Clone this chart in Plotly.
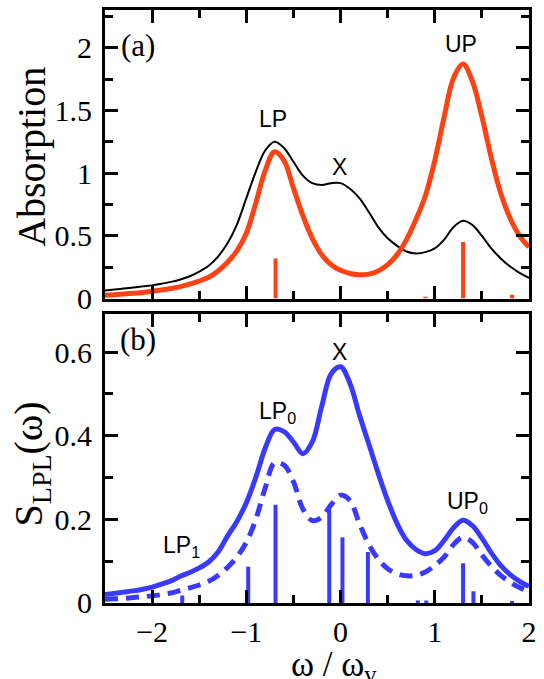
import plotly.graph_objects as go

# frequency grid, omega / omega_v
omega = [-2.5, -2.4, -2.3, -2.2, -2.1, -2.0, -1.9, -1.8, -1.7, -1.6,
         -1.5, -1.4, -1.3, -1.2, -1.1, -1.0, -0.9, -0.8, -0.7, -0.6,
         -0.5, -0.4, -0.3, -0.2, -0.1, 0.0, 0.1, 0.2, 0.3, 0.4,
         0.5, 0.6, 0.7, 0.8, 0.9, 1.0, 1.1, 1.2, 1.3, 1.4,
         1.5, 1.6, 1.7, 1.8, 1.9, 2.0]

# (a) absorption: bare exciton-vibration (black) and polariton (red)
abs_bare = [0.065, 0.072, 0.080, 0.088, 0.097, 0.105, 0.118, 0.133, 0.152, 0.178,
            0.215, 0.262, 0.335, 0.44, 0.59, 0.80, 1.01, 1.18, 1.25, 1.20,
            1.09, 0.98, 0.92, 0.905, 0.92, 0.92, 0.875, 0.80, 0.69, 0.57,
            0.48, 0.42, 0.375, 0.36, 0.37, 0.40, 0.47, 0.57, 0.62, 0.585,
            0.50, 0.40, 0.32, 0.255, 0.205, 0.165]
abs_pol = [0.027, 0.031, 0.036, 0.042, 0.049, 0.058, 0.068, 0.080, 0.095, 0.115,
           0.14, 0.17, 0.22, 0.29, 0.38, 0.52, 0.76, 1.02, 1.17, 1.10,
           0.88, 0.66, 0.48, 0.35, 0.27, 0.225, 0.20, 0.19, 0.195, 0.22,
           0.27, 0.35, 0.47, 0.63, 0.82, 1.10, 1.45, 1.76, 1.87, 1.73,
           1.45, 1.12, 0.84, 0.64, 0.50, 0.41]
abs_stick_pos = [-0.69, 0.90, 1.30, 1.82]
abs_stick_amp = [0.32, 0.015, 0.45, 0.03]

# (b) lower-polariton PL spectrum
pl_solid = [0.020, 0.023, 0.026, 0.029, 0.033, 0.038, 0.045, 0.053, 0.064, 0.073,
            0.084, 0.098, 0.122, 0.16, 0.195, 0.24, 0.30, 0.37, 0.415, 0.41,
            0.385, 0.357, 0.385, 0.47, 0.548, 0.565, 0.525, 0.45, 0.38, 0.31,
            0.245, 0.19, 0.15, 0.128, 0.118, 0.125, 0.15, 0.18, 0.198, 0.185,
            0.155, 0.12, 0.09, 0.068, 0.052, 0.040]
pl_dashed = [0.009, 0.010, 0.011, 0.013, 0.015, 0.017, 0.020, 0.024, 0.030, 0.036,
             0.043, 0.052, 0.066, 0.085, 0.11, 0.145, 0.20, 0.275, 0.335, 0.33,
             0.29, 0.225, 0.197, 0.205, 0.235, 0.258, 0.245, 0.19, 0.14, 0.105,
             0.082, 0.070, 0.065, 0.066, 0.074, 0.09, 0.11, 0.14, 0.157, 0.145,
             0.115, 0.088, 0.066, 0.05, 0.037, 0.028]
pl_stick_pos = [-1.68, -0.98, -0.69, -0.12, 0.02, 0.29, 0.82, 0.91, 1.30, 1.41, 1.82]
pl_stick_amp = [0.018, 0.087, 0.235, 0.223, 0.157, 0.122, 0.006, 0.006, 0.095, 0.028, 0.005]

RED = "#ff4214"
BLUE = "#3a3aff"


def sticks(pos, amp):
    xs, ys = [], []
    for p, a in zip(pos, amp):
        xs += [p, p, None]
        ys += [0, a, None]
    return xs, ys


fig = go.Figure()

sx, sy = sticks(abs_stick_pos, abs_stick_amp)
fig.add_trace(go.Scatter(x=sx, y=sy, mode="lines", line=dict(color=RED, width=4),
                         xaxis="x2", yaxis="y2", showlegend=False))
fig.add_trace(go.Scatter(x=omega, y=abs_bare, mode="lines",
                         line=dict(color="black", width=2, shape="spline"),
                         xaxis="x2", yaxis="y2", showlegend=False))
fig.add_trace(go.Scatter(x=omega, y=abs_pol, mode="lines",
                         line=dict(color=RED, width=5, shape="spline"),
                         xaxis="x2", yaxis="y2", showlegend=False))

px_, py_ = sticks(pl_stick_pos, pl_stick_amp)
fig.add_trace(go.Scatter(x=px_, y=py_, mode="lines", line=dict(color=BLUE, width=4),
                         xaxis="x", yaxis="y", showlegend=False))
fig.add_trace(go.Scatter(x=omega, y=pl_dashed, mode="lines",
                         line=dict(color=BLUE, width=5, shape="spline", dash="13px,8px"),
                         xaxis="x", yaxis="y", showlegend=False))
fig.add_trace(go.Scatter(x=omega, y=pl_solid, mode="lines",
                         line=dict(color=BLUE, width=5, shape="spline"),
                         xaxis="x", yaxis="y", showlegend=False))

serif = "Liberation Serif"
sans = "Liberation Sans"
tickfont = dict(family=serif, size=30, color="black")

frame = dict(showline=True, linecolor="black", linewidth=3, mirror="ticks",
             ticks="inside", ticklen=13, tickwidth=3, tickcolor="black",
             showgrid=False, zeroline=False, tickfont=tickfont)

fig.update_layout(
    width=544, height=679, autosize=False,
    margin=dict(l=105, r=10, t=7, b=76),
    paper_bgcolor="white", plot_bgcolor="white",
    font=dict(family=serif, color="black"),
    xaxis=dict(range=[-2.5, 2.0], domain=[0, 1], anchor="y",
               tickvals=[-2, -1, 0, 1, 2], ticktext=["\u22122", "\u22121", "0", "1", "2"],
               minor=dict(dtick=0.5, tick0=0, ticks="inside", ticklen=8, tickwidth=3,
                          tickcolor="black", showgrid=False),
               ticklabelstandoff=0, **frame),
    yaxis=dict(range=[0, 0.69], domain=[0, 0.4866], anchor="x",
               tickvals=[0, 0.2, 0.4, 0.6], ticktext=["0", "0.2", "0.4", "0.6"],
               minor=dict(dtick=0.1, tick0=0, ticks="inside", ticklen=8, tickwidth=3,
                          tickcolor="black", showgrid=False),
               ticklabelstandoff=4, **frame),
    xaxis2=dict(range=[-2.5, 2.0], domain=[0, 1], anchor="y2", showticklabels=False,
                tickvals=[-2, -1, 0, 1, 2],
                minor=dict(dtick=0.5, tick0=0, ticks="inside", ticklen=8, tickwidth=3,
                           tickcolor="black", showgrid=False),
                **frame),
    yaxis2=dict(range=[0, 2.3], domain=[0.5134, 1], anchor="x2",
                tickvals=[0, 0.5, 1, 1.5, 2], ticktext=["0", "0.5", "1", "1.5", "2"],
                minor=dict(dtick=0.25, tick0=0, ticks="inside", ticklen=8, tickwidth=3,
                           tickcolor="black", showgrid=False),
                ticklabelstandoff=4, **frame),
)

ann = []


def label(text, x, y, xref, yref, font, **kw):
    ann.append(dict(text=text, x=x, y=y, xref=xref, yref=yref, showarrow=False,
                    xanchor="center", yanchor="middle", font=font, **kw))


peakfont = dict(family=sans, size=23, color="black")
panelfont = dict(family=serif, size=31, color="black")
titlefont = dict(family=serif, size=40, color="black")

# panel (a) peak labels
label("LP", -0.72, 1.43, "x2", "y2", peakfont)
label("X", -0.01, 1.05, "x2", "y2", peakfont)
label("UP", 1.28, 2.03, "x2", "y2", peakfont)
label("(a)", -2.15, 2.02, "x2", "y2", panelfont)

# panel (b) peak labels
label("LP<sub>0</sub>", -0.67, 0.455, "x", "y", peakfont)
label("X", -0.01, 0.60, "x", "y", peakfont)
label("UP<sub>0</sub>", 1.35, 0.24, "x", "y", peakfont)
label("LP<sub>1</sub>", -1.69, 0.135, "x", "y", peakfont)
label("(b)", -2.15, 0.63, "x", "y", panelfont)

# axis titles
label("Absorption", -0.175, 0.752, "paper", "paper", titlefont, textangle=-90)
label("S<sub>LPL</sub>(\u03c9)", -0.175, 0.235, "paper", "paper", titlefont, textangle=-90)
label("\u03c9 / \u03c9<sub>v</sub>", 0.54, -0.107, "paper", "paper",
      dict(family=serif, size=35, color="black"))

fig.update_layout(annotations=ann)

fig.write_html("out.html")
